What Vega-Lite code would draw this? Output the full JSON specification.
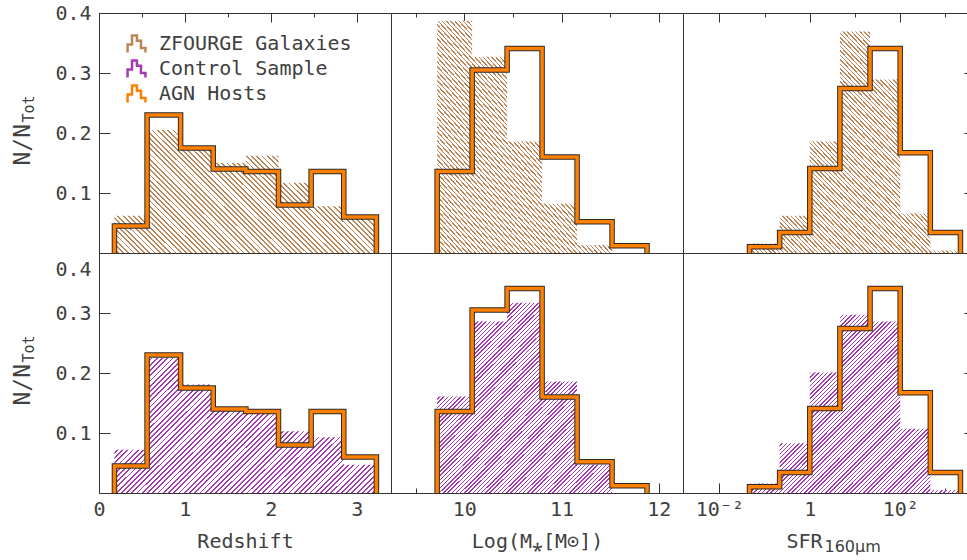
{
  "$schema": "https://vega.github.io/schema/vega-lite/v6.json",
  "background": "white",
  "padding": {"left": 10, "top": 2, "right": 0, "bottom": 0},
  "config": {
    "font": "DejaVu Sans Mono",
    "view": {"stroke": "#333", "strokeWidth": 1},
    "axis": {"grid": false, "domain": false, "tickColor": "#333", "tickWidth": 1, "labelColor": "#404040", "titleColor": "#404040", "labelFont": "DejaVu Sans Mono", "titleFont": "DejaVu Sans Mono", "labelFontSize": 20, "titleFontSize": 20, "titleFontWeight": "normal", "labelOverlap": false, "labelBound": false, "labelFlush": false}
  },
  "params": [
    {"name": "hatchZ", "value": {"gradient": "linear", "x1": 0, "y1": 1, "x2": 1, "y2": 0, "stops": [
{"offset":0,"color":"#bb8658"},{"offset":0.0035,"color":"#bb8658"},{"offset":0.0035,"color":"#fff"},{"offset":0.01,"color":"#fff"},
{"offset":0.01,"color":"#bb8658"},{"offset":0.0135,"color":"#bb8658"},{"offset":0.0135,"color":"#fff"},{"offset":0.02,"color":"#fff"},
{"offset":0.02,"color":"#bb8658"},{"offset":0.0235,"color":"#bb8658"},{"offset":0.0235,"color":"#fff"},{"offset":0.03,"color":"#fff"},
{"offset":0.03,"color":"#bb8658"},{"offset":0.0335,"color":"#bb8658"},{"offset":0.0335,"color":"#fff"},{"offset":0.04,"color":"#fff"},
{"offset":0.04,"color":"#bb8658"},{"offset":0.0435,"color":"#bb8658"},{"offset":0.0435,"color":"#fff"},{"offset":0.05,"color":"#fff"},
{"offset":0.05,"color":"#bb8658"},{"offset":0.0535,"color":"#bb8658"},{"offset":0.0535,"color":"#fff"},{"offset":0.06,"color":"#fff"},
{"offset":0.06,"color":"#bb8658"},{"offset":0.0635,"color":"#bb8658"},{"offset":0.0635,"color":"#fff"},{"offset":0.07,"color":"#fff"},
{"offset":0.07,"color":"#bb8658"},{"offset":0.0735,"color":"#bb8658"},{"offset":0.0735,"color":"#fff"},{"offset":0.08,"color":"#fff"},
{"offset":0.08,"color":"#bb8658"},{"offset":0.0835,"color":"#bb8658"},{"offset":0.0835,"color":"#fff"},{"offset":0.09,"color":"#fff"},
{"offset":0.09,"color":"#bb8658"},{"offset":0.0935,"color":"#bb8658"},{"offset":0.0935,"color":"#fff"},{"offset":0.1,"color":"#fff"},
{"offset":0.1,"color":"#bb8658"},{"offset":0.1035,"color":"#bb8658"},{"offset":0.1035,"color":"#fff"},{"offset":0.11,"color":"#fff"},
{"offset":0.11,"color":"#bb8658"},{"offset":0.1135,"color":"#bb8658"},{"offset":0.1135,"color":"#fff"},{"offset":0.12,"color":"#fff"},
{"offset":0.12,"color":"#bb8658"},{"offset":0.1235,"color":"#bb8658"},{"offset":0.1235,"color":"#fff"},{"offset":0.13,"color":"#fff"},
{"offset":0.13,"color":"#bb8658"},{"offset":0.1335,"color":"#bb8658"},{"offset":0.1335,"color":"#fff"},{"offset":0.14,"color":"#fff"},
{"offset":0.14,"color":"#bb8658"},{"offset":0.1435,"color":"#bb8658"},{"offset":0.1435,"color":"#fff"},{"offset":0.15,"color":"#fff"},
{"offset":0.15,"color":"#bb8658"},{"offset":0.1535,"color":"#bb8658"},{"offset":0.1535,"color":"#fff"},{"offset":0.16,"color":"#fff"},
{"offset":0.16,"color":"#bb8658"},{"offset":0.1635,"color":"#bb8658"},{"offset":0.1635,"color":"#fff"},{"offset":0.17,"color":"#fff"},
{"offset":0.17,"color":"#bb8658"},{"offset":0.1735,"color":"#bb8658"},{"offset":0.1735,"color":"#fff"},{"offset":0.18,"color":"#fff"},
{"offset":0.18,"color":"#bb8658"},{"offset":0.1835,"color":"#bb8658"},{"offset":0.1835,"color":"#fff"},{"offset":0.19,"color":"#fff"},
{"offset":0.19,"color":"#bb8658"},{"offset":0.1935,"color":"#bb8658"},{"offset":0.1935,"color":"#fff"},{"offset":0.2,"color":"#fff"},
{"offset":0.2,"color":"#bb8658"},{"offset":0.2035,"color":"#bb8658"},{"offset":0.2035,"color":"#fff"},{"offset":0.21,"color":"#fff"},
{"offset":0.21,"color":"#bb8658"},{"offset":0.2135,"color":"#bb8658"},{"offset":0.2135,"color":"#fff"},{"offset":0.22,"color":"#fff"},
{"offset":0.22,"color":"#bb8658"},{"offset":0.2235,"color":"#bb8658"},{"offset":0.2235,"color":"#fff"},{"offset":0.23,"color":"#fff"},
{"offset":0.23,"color":"#bb8658"},{"offset":0.2335,"color":"#bb8658"},{"offset":0.2335,"color":"#fff"},{"offset":0.24,"color":"#fff"},
{"offset":0.24,"color":"#bb8658"},{"offset":0.2435,"color":"#bb8658"},{"offset":0.2435,"color":"#fff"},{"offset":0.25,"color":"#fff"},
{"offset":0.25,"color":"#bb8658"},{"offset":0.2535,"color":"#bb8658"},{"offset":0.2535,"color":"#fff"},{"offset":0.26,"color":"#fff"},
{"offset":0.26,"color":"#bb8658"},{"offset":0.2635,"color":"#bb8658"},{"offset":0.2635,"color":"#fff"},{"offset":0.27,"color":"#fff"},
{"offset":0.27,"color":"#bb8658"},{"offset":0.2735,"color":"#bb8658"},{"offset":0.2735,"color":"#fff"},{"offset":0.28,"color":"#fff"},
{"offset":0.28,"color":"#bb8658"},{"offset":0.2835,"color":"#bb8658"},{"offset":0.2835,"color":"#fff"},{"offset":0.29,"color":"#fff"},
{"offset":0.29,"color":"#bb8658"},{"offset":0.2935,"color":"#bb8658"},{"offset":0.2935,"color":"#fff"},{"offset":0.3,"color":"#fff"},
{"offset":0.3,"color":"#bb8658"},{"offset":0.3035,"color":"#bb8658"},{"offset":0.3035,"color":"#fff"},{"offset":0.31,"color":"#fff"},
{"offset":0.31,"color":"#bb8658"},{"offset":0.3135,"color":"#bb8658"},{"offset":0.3135,"color":"#fff"},{"offset":0.32,"color":"#fff"},
{"offset":0.32,"color":"#bb8658"},{"offset":0.3235,"color":"#bb8658"},{"offset":0.3235,"color":"#fff"},{"offset":0.33,"color":"#fff"},
{"offset":0.33,"color":"#bb8658"},{"offset":0.3335,"color":"#bb8658"},{"offset":0.3335,"color":"#fff"},{"offset":0.34,"color":"#fff"},
{"offset":0.34,"color":"#bb8658"},{"offset":0.3435,"color":"#bb8658"},{"offset":0.3435,"color":"#fff"},{"offset":0.35,"color":"#fff"},
{"offset":0.35,"color":"#bb8658"},{"offset":0.3535,"color":"#bb8658"},{"offset":0.3535,"color":"#fff"},{"offset":0.36,"color":"#fff"},
{"offset":0.36,"color":"#bb8658"},{"offset":0.3635,"color":"#bb8658"},{"offset":0.3635,"color":"#fff"},{"offset":0.37,"color":"#fff"},
{"offset":0.37,"color":"#bb8658"},{"offset":0.3735,"color":"#bb8658"},{"offset":0.3735,"color":"#fff"},{"offset":0.38,"color":"#fff"},
{"offset":0.38,"color":"#bb8658"},{"offset":0.3835,"color":"#bb8658"},{"offset":0.3835,"color":"#fff"},{"offset":0.39,"color":"#fff"},
{"offset":0.39,"color":"#bb8658"},{"offset":0.3935,"color":"#bb8658"},{"offset":0.3935,"color":"#fff"},{"offset":0.4,"color":"#fff"},
{"offset":0.4,"color":"#bb8658"},{"offset":0.4035,"color":"#bb8658"},{"offset":0.4035,"color":"#fff"},{"offset":0.41,"color":"#fff"},
{"offset":0.41,"color":"#bb8658"},{"offset":0.4135,"color":"#bb8658"},{"offset":0.4135,"color":"#fff"},{"offset":0.42,"color":"#fff"},
{"offset":0.42,"color":"#bb8658"},{"offset":0.4235,"color":"#bb8658"},{"offset":0.4235,"color":"#fff"},{"offset":0.43,"color":"#fff"},
{"offset":0.43,"color":"#bb8658"},{"offset":0.4335,"color":"#bb8658"},{"offset":0.4335,"color":"#fff"},{"offset":0.44,"color":"#fff"},
{"offset":0.44,"color":"#bb8658"},{"offset":0.4435,"color":"#bb8658"},{"offset":0.4435,"color":"#fff"},{"offset":0.45,"color":"#fff"},
{"offset":0.45,"color":"#bb8658"},{"offset":0.4535,"color":"#bb8658"},{"offset":0.4535,"color":"#fff"},{"offset":0.46,"color":"#fff"},
{"offset":0.46,"color":"#bb8658"},{"offset":0.4635,"color":"#bb8658"},{"offset":0.4635,"color":"#fff"},{"offset":0.47,"color":"#fff"},
{"offset":0.47,"color":"#bb8658"},{"offset":0.4735,"color":"#bb8658"},{"offset":0.4735,"color":"#fff"},{"offset":0.48,"color":"#fff"},
{"offset":0.48,"color":"#bb8658"},{"offset":0.4835,"color":"#bb8658"},{"offset":0.4835,"color":"#fff"},{"offset":0.49,"color":"#fff"},
{"offset":0.49,"color":"#bb8658"},{"offset":0.4935,"color":"#bb8658"},{"offset":0.4935,"color":"#fff"},{"offset":0.5,"color":"#fff"},
{"offset":0.5,"color":"#bb8658"},{"offset":0.5035,"color":"#bb8658"},{"offset":0.5035,"color":"#fff"},{"offset":0.51,"color":"#fff"},
{"offset":0.51,"color":"#bb8658"},{"offset":0.5135,"color":"#bb8658"},{"offset":0.5135,"color":"#fff"},{"offset":0.52,"color":"#fff"},
{"offset":0.52,"color":"#bb8658"},{"offset":0.5235,"color":"#bb8658"},{"offset":0.5235,"color":"#fff"},{"offset":0.53,"color":"#fff"},
{"offset":0.53,"color":"#bb8658"},{"offset":0.5335,"color":"#bb8658"},{"offset":0.5335,"color":"#fff"},{"offset":0.54,"color":"#fff"},
{"offset":0.54,"color":"#bb8658"},{"offset":0.5435,"color":"#bb8658"},{"offset":0.5435,"color":"#fff"},{"offset":0.55,"color":"#fff"},
{"offset":0.55,"color":"#bb8658"},{"offset":0.5535,"color":"#bb8658"},{"offset":0.5535,"color":"#fff"},{"offset":0.56,"color":"#fff"},
{"offset":0.56,"color":"#bb8658"},{"offset":0.5635,"color":"#bb8658"},{"offset":0.5635,"color":"#fff"},{"offset":0.57,"color":"#fff"},
{"offset":0.57,"color":"#bb8658"},{"offset":0.5735,"color":"#bb8658"},{"offset":0.5735,"color":"#fff"},{"offset":0.58,"color":"#fff"},
{"offset":0.58,"color":"#bb8658"},{"offset":0.5835,"color":"#bb8658"},{"offset":0.5835,"color":"#fff"},{"offset":0.59,"color":"#fff"},
{"offset":0.59,"color":"#bb8658"},{"offset":0.5935,"color":"#bb8658"},{"offset":0.5935,"color":"#fff"},{"offset":0.6,"color":"#fff"},
{"offset":0.6,"color":"#bb8658"},{"offset":0.6035,"color":"#bb8658"},{"offset":0.6035,"color":"#fff"},{"offset":0.61,"color":"#fff"},
{"offset":0.61,"color":"#bb8658"},{"offset":0.6135,"color":"#bb8658"},{"offset":0.6135,"color":"#fff"},{"offset":0.62,"color":"#fff"},
{"offset":0.62,"color":"#bb8658"},{"offset":0.6235,"color":"#bb8658"},{"offset":0.6235,"color":"#fff"},{"offset":0.63,"color":"#fff"},
{"offset":0.63,"color":"#bb8658"},{"offset":0.6335,"color":"#bb8658"},{"offset":0.6335,"color":"#fff"},{"offset":0.64,"color":"#fff"},
{"offset":0.64,"color":"#bb8658"},{"offset":0.6435,"color":"#bb8658"},{"offset":0.6435,"color":"#fff"},{"offset":0.65,"color":"#fff"},
{"offset":0.65,"color":"#bb8658"},{"offset":0.6535,"color":"#bb8658"},{"offset":0.6535,"color":"#fff"},{"offset":0.66,"color":"#fff"},
{"offset":0.66,"color":"#bb8658"},{"offset":0.6635,"color":"#bb8658"},{"offset":0.6635,"color":"#fff"},{"offset":0.67,"color":"#fff"},
{"offset":0.67,"color":"#bb8658"},{"offset":0.6735,"color":"#bb8658"},{"offset":0.6735,"color":"#fff"},{"offset":0.68,"color":"#fff"},
{"offset":0.68,"color":"#bb8658"},{"offset":0.6835,"color":"#bb8658"},{"offset":0.6835,"color":"#fff"},{"offset":0.69,"color":"#fff"},
{"offset":0.69,"color":"#bb8658"},{"offset":0.6935,"color":"#bb8658"},{"offset":0.6935,"color":"#fff"},{"offset":0.7,"color":"#fff"},
{"offset":0.7,"color":"#bb8658"},{"offset":0.7035,"color":"#bb8658"},{"offset":0.7035,"color":"#fff"},{"offset":0.71,"color":"#fff"},
{"offset":0.71,"color":"#bb8658"},{"offset":0.7135,"color":"#bb8658"},{"offset":0.7135,"color":"#fff"},{"offset":0.72,"color":"#fff"},
{"offset":0.72,"color":"#bb8658"},{"offset":0.7235,"color":"#bb8658"},{"offset":0.7235,"color":"#fff"},{"offset":0.73,"color":"#fff"},
{"offset":0.73,"color":"#bb8658"},{"offset":0.7335,"color":"#bb8658"},{"offset":0.7335,"color":"#fff"},{"offset":0.74,"color":"#fff"},
{"offset":0.74,"color":"#bb8658"},{"offset":0.7435,"color":"#bb8658"},{"offset":0.7435,"color":"#fff"},{"offset":0.75,"color":"#fff"},
{"offset":0.75,"color":"#bb8658"},{"offset":0.7535,"color":"#bb8658"},{"offset":0.7535,"color":"#fff"},{"offset":0.76,"color":"#fff"},
{"offset":0.76,"color":"#bb8658"},{"offset":0.7635,"color":"#bb8658"},{"offset":0.7635,"color":"#fff"},{"offset":0.77,"color":"#fff"},
{"offset":0.77,"color":"#bb8658"},{"offset":0.7735,"color":"#bb8658"},{"offset":0.7735,"color":"#fff"},{"offset":0.78,"color":"#fff"},
{"offset":0.78,"color":"#bb8658"},{"offset":0.7835,"color":"#bb8658"},{"offset":0.7835,"color":"#fff"},{"offset":0.79,"color":"#fff"},
{"offset":0.79,"color":"#bb8658"},{"offset":0.7935,"color":"#bb8658"},{"offset":0.7935,"color":"#fff"},{"offset":0.8,"color":"#fff"},
{"offset":0.8,"color":"#bb8658"},{"offset":0.8035,"color":"#bb8658"},{"offset":0.8035,"color":"#fff"},{"offset":0.81,"color":"#fff"},
{"offset":0.81,"color":"#bb8658"},{"offset":0.8135,"color":"#bb8658"},{"offset":0.8135,"color":"#fff"},{"offset":0.82,"color":"#fff"},
{"offset":0.82,"color":"#bb8658"},{"offset":0.8235,"color":"#bb8658"},{"offset":0.8235,"color":"#fff"},{"offset":0.83,"color":"#fff"},
{"offset":0.83,"color":"#bb8658"},{"offset":0.8335,"color":"#bb8658"},{"offset":0.8335,"color":"#fff"},{"offset":0.84,"color":"#fff"},
{"offset":0.84,"color":"#bb8658"},{"offset":0.8435,"color":"#bb8658"},{"offset":0.8435,"color":"#fff"},{"offset":0.85,"color":"#fff"},
{"offset":0.85,"color":"#bb8658"},{"offset":0.8535,"color":"#bb8658"},{"offset":0.8535,"color":"#fff"},{"offset":0.86,"color":"#fff"},
{"offset":0.86,"color":"#bb8658"},{"offset":0.8635,"color":"#bb8658"},{"offset":0.8635,"color":"#fff"},{"offset":0.87,"color":"#fff"},
{"offset":0.87,"color":"#bb8658"},{"offset":0.8735,"color":"#bb8658"},{"offset":0.8735,"color":"#fff"},{"offset":0.88,"color":"#fff"},
{"offset":0.88,"color":"#bb8658"},{"offset":0.8835,"color":"#bb8658"},{"offset":0.8835,"color":"#fff"},{"offset":0.89,"color":"#fff"},
{"offset":0.89,"color":"#bb8658"},{"offset":0.8935,"color":"#bb8658"},{"offset":0.8935,"color":"#fff"},{"offset":0.9,"color":"#fff"},
{"offset":0.9,"color":"#bb8658"},{"offset":0.9035,"color":"#bb8658"},{"offset":0.9035,"color":"#fff"},{"offset":0.91,"color":"#fff"},
{"offset":0.91,"color":"#bb8658"},{"offset":0.9135,"color":"#bb8658"},{"offset":0.9135,"color":"#fff"},{"offset":0.92,"color":"#fff"},
{"offset":0.92,"color":"#bb8658"},{"offset":0.9235,"color":"#bb8658"},{"offset":0.9235,"color":"#fff"},{"offset":0.93,"color":"#fff"},
{"offset":0.93,"color":"#bb8658"},{"offset":0.9335,"color":"#bb8658"},{"offset":0.9335,"color":"#fff"},{"offset":0.94,"color":"#fff"},
{"offset":0.94,"color":"#bb8658"},{"offset":0.9435,"color":"#bb8658"},{"offset":0.9435,"color":"#fff"},{"offset":0.95,"color":"#fff"},
{"offset":0.95,"color":"#bb8658"},{"offset":0.9535,"color":"#bb8658"},{"offset":0.9535,"color":"#fff"},{"offset":0.96,"color":"#fff"},
{"offset":0.96,"color":"#bb8658"},{"offset":0.9635,"color":"#bb8658"},{"offset":0.9635,"color":"#fff"},{"offset":0.97,"color":"#fff"},
{"offset":0.97,"color":"#bb8658"},{"offset":0.9735,"color":"#bb8658"},{"offset":0.9735,"color":"#fff"},{"offset":0.98,"color":"#fff"},
{"offset":0.98,"color":"#bb8658"},{"offset":0.9835,"color":"#bb8658"},{"offset":0.9835,"color":"#fff"},{"offset":0.99,"color":"#fff"},
{"offset":0.99,"color":"#bb8658"},{"offset":0.9935,"color":"#bb8658"},{"offset":0.9935,"color":"#fff"},{"offset":1,"color":"#fff"}
    ]}},
    {"name": "hatchC", "value": {"gradient": "linear", "x1": 0, "y1": 0, "x2": 1, "y2": 1, "stops": [
{"offset":0,"color":"#a23cb0"},{"offset":0.0035,"color":"#a23cb0"},{"offset":0.0035,"color":"#fff"},{"offset":0.01,"color":"#fff"},
{"offset":0.01,"color":"#a23cb0"},{"offset":0.0135,"color":"#a23cb0"},{"offset":0.0135,"color":"#fff"},{"offset":0.02,"color":"#fff"},
{"offset":0.02,"color":"#a23cb0"},{"offset":0.0235,"color":"#a23cb0"},{"offset":0.0235,"color":"#fff"},{"offset":0.03,"color":"#fff"},
{"offset":0.03,"color":"#a23cb0"},{"offset":0.0335,"color":"#a23cb0"},{"offset":0.0335,"color":"#fff"},{"offset":0.04,"color":"#fff"},
{"offset":0.04,"color":"#a23cb0"},{"offset":0.0435,"color":"#a23cb0"},{"offset":0.0435,"color":"#fff"},{"offset":0.05,"color":"#fff"},
{"offset":0.05,"color":"#a23cb0"},{"offset":0.0535,"color":"#a23cb0"},{"offset":0.0535,"color":"#fff"},{"offset":0.06,"color":"#fff"},
{"offset":0.06,"color":"#a23cb0"},{"offset":0.0635,"color":"#a23cb0"},{"offset":0.0635,"color":"#fff"},{"offset":0.07,"color":"#fff"},
{"offset":0.07,"color":"#a23cb0"},{"offset":0.0735,"color":"#a23cb0"},{"offset":0.0735,"color":"#fff"},{"offset":0.08,"color":"#fff"},
{"offset":0.08,"color":"#a23cb0"},{"offset":0.0835,"color":"#a23cb0"},{"offset":0.0835,"color":"#fff"},{"offset":0.09,"color":"#fff"},
{"offset":0.09,"color":"#a23cb0"},{"offset":0.0935,"color":"#a23cb0"},{"offset":0.0935,"color":"#fff"},{"offset":0.1,"color":"#fff"},
{"offset":0.1,"color":"#a23cb0"},{"offset":0.1035,"color":"#a23cb0"},{"offset":0.1035,"color":"#fff"},{"offset":0.11,"color":"#fff"},
{"offset":0.11,"color":"#a23cb0"},{"offset":0.1135,"color":"#a23cb0"},{"offset":0.1135,"color":"#fff"},{"offset":0.12,"color":"#fff"},
{"offset":0.12,"color":"#a23cb0"},{"offset":0.1235,"color":"#a23cb0"},{"offset":0.1235,"color":"#fff"},{"offset":0.13,"color":"#fff"},
{"offset":0.13,"color":"#a23cb0"},{"offset":0.1335,"color":"#a23cb0"},{"offset":0.1335,"color":"#fff"},{"offset":0.14,"color":"#fff"},
{"offset":0.14,"color":"#a23cb0"},{"offset":0.1435,"color":"#a23cb0"},{"offset":0.1435,"color":"#fff"},{"offset":0.15,"color":"#fff"},
{"offset":0.15,"color":"#a23cb0"},{"offset":0.1535,"color":"#a23cb0"},{"offset":0.1535,"color":"#fff"},{"offset":0.16,"color":"#fff"},
{"offset":0.16,"color":"#a23cb0"},{"offset":0.1635,"color":"#a23cb0"},{"offset":0.1635,"color":"#fff"},{"offset":0.17,"color":"#fff"},
{"offset":0.17,"color":"#a23cb0"},{"offset":0.1735,"color":"#a23cb0"},{"offset":0.1735,"color":"#fff"},{"offset":0.18,"color":"#fff"},
{"offset":0.18,"color":"#a23cb0"},{"offset":0.1835,"color":"#a23cb0"},{"offset":0.1835,"color":"#fff"},{"offset":0.19,"color":"#fff"},
{"offset":0.19,"color":"#a23cb0"},{"offset":0.1935,"color":"#a23cb0"},{"offset":0.1935,"color":"#fff"},{"offset":0.2,"color":"#fff"},
{"offset":0.2,"color":"#a23cb0"},{"offset":0.2035,"color":"#a23cb0"},{"offset":0.2035,"color":"#fff"},{"offset":0.21,"color":"#fff"},
{"offset":0.21,"color":"#a23cb0"},{"offset":0.2135,"color":"#a23cb0"},{"offset":0.2135,"color":"#fff"},{"offset":0.22,"color":"#fff"},
{"offset":0.22,"color":"#a23cb0"},{"offset":0.2235,"color":"#a23cb0"},{"offset":0.2235,"color":"#fff"},{"offset":0.23,"color":"#fff"},
{"offset":0.23,"color":"#a23cb0"},{"offset":0.2335,"color":"#a23cb0"},{"offset":0.2335,"color":"#fff"},{"offset":0.24,"color":"#fff"},
{"offset":0.24,"color":"#a23cb0"},{"offset":0.2435,"color":"#a23cb0"},{"offset":0.2435,"color":"#fff"},{"offset":0.25,"color":"#fff"},
{"offset":0.25,"color":"#a23cb0"},{"offset":0.2535,"color":"#a23cb0"},{"offset":0.2535,"color":"#fff"},{"offset":0.26,"color":"#fff"},
{"offset":0.26,"color":"#a23cb0"},{"offset":0.2635,"color":"#a23cb0"},{"offset":0.2635,"color":"#fff"},{"offset":0.27,"color":"#fff"},
{"offset":0.27,"color":"#a23cb0"},{"offset":0.2735,"color":"#a23cb0"},{"offset":0.2735,"color":"#fff"},{"offset":0.28,"color":"#fff"},
{"offset":0.28,"color":"#a23cb0"},{"offset":0.2835,"color":"#a23cb0"},{"offset":0.2835,"color":"#fff"},{"offset":0.29,"color":"#fff"},
{"offset":0.29,"color":"#a23cb0"},{"offset":0.2935,"color":"#a23cb0"},{"offset":0.2935,"color":"#fff"},{"offset":0.3,"color":"#fff"},
{"offset":0.3,"color":"#a23cb0"},{"offset":0.3035,"color":"#a23cb0"},{"offset":0.3035,"color":"#fff"},{"offset":0.31,"color":"#fff"},
{"offset":0.31,"color":"#a23cb0"},{"offset":0.3135,"color":"#a23cb0"},{"offset":0.3135,"color":"#fff"},{"offset":0.32,"color":"#fff"},
{"offset":0.32,"color":"#a23cb0"},{"offset":0.3235,"color":"#a23cb0"},{"offset":0.3235,"color":"#fff"},{"offset":0.33,"color":"#fff"},
{"offset":0.33,"color":"#a23cb0"},{"offset":0.3335,"color":"#a23cb0"},{"offset":0.3335,"color":"#fff"},{"offset":0.34,"color":"#fff"},
{"offset":0.34,"color":"#a23cb0"},{"offset":0.3435,"color":"#a23cb0"},{"offset":0.3435,"color":"#fff"},{"offset":0.35,"color":"#fff"},
{"offset":0.35,"color":"#a23cb0"},{"offset":0.3535,"color":"#a23cb0"},{"offset":0.3535,"color":"#fff"},{"offset":0.36,"color":"#fff"},
{"offset":0.36,"color":"#a23cb0"},{"offset":0.3635,"color":"#a23cb0"},{"offset":0.3635,"color":"#fff"},{"offset":0.37,"color":"#fff"},
{"offset":0.37,"color":"#a23cb0"},{"offset":0.3735,"color":"#a23cb0"},{"offset":0.3735,"color":"#fff"},{"offset":0.38,"color":"#fff"},
{"offset":0.38,"color":"#a23cb0"},{"offset":0.3835,"color":"#a23cb0"},{"offset":0.3835,"color":"#fff"},{"offset":0.39,"color":"#fff"},
{"offset":0.39,"color":"#a23cb0"},{"offset":0.3935,"color":"#a23cb0"},{"offset":0.3935,"color":"#fff"},{"offset":0.4,"color":"#fff"},
{"offset":0.4,"color":"#a23cb0"},{"offset":0.4035,"color":"#a23cb0"},{"offset":0.4035,"color":"#fff"},{"offset":0.41,"color":"#fff"},
{"offset":0.41,"color":"#a23cb0"},{"offset":0.4135,"color":"#a23cb0"},{"offset":0.4135,"color":"#fff"},{"offset":0.42,"color":"#fff"},
{"offset":0.42,"color":"#a23cb0"},{"offset":0.4235,"color":"#a23cb0"},{"offset":0.4235,"color":"#fff"},{"offset":0.43,"color":"#fff"},
{"offset":0.43,"color":"#a23cb0"},{"offset":0.4335,"color":"#a23cb0"},{"offset":0.4335,"color":"#fff"},{"offset":0.44,"color":"#fff"},
{"offset":0.44,"color":"#a23cb0"},{"offset":0.4435,"color":"#a23cb0"},{"offset":0.4435,"color":"#fff"},{"offset":0.45,"color":"#fff"},
{"offset":0.45,"color":"#a23cb0"},{"offset":0.4535,"color":"#a23cb0"},{"offset":0.4535,"color":"#fff"},{"offset":0.46,"color":"#fff"},
{"offset":0.46,"color":"#a23cb0"},{"offset":0.4635,"color":"#a23cb0"},{"offset":0.4635,"color":"#fff"},{"offset":0.47,"color":"#fff"},
{"offset":0.47,"color":"#a23cb0"},{"offset":0.4735,"color":"#a23cb0"},{"offset":0.4735,"color":"#fff"},{"offset":0.48,"color":"#fff"},
{"offset":0.48,"color":"#a23cb0"},{"offset":0.4835,"color":"#a23cb0"},{"offset":0.4835,"color":"#fff"},{"offset":0.49,"color":"#fff"},
{"offset":0.49,"color":"#a23cb0"},{"offset":0.4935,"color":"#a23cb0"},{"offset":0.4935,"color":"#fff"},{"offset":0.5,"color":"#fff"},
{"offset":0.5,"color":"#a23cb0"},{"offset":0.5035,"color":"#a23cb0"},{"offset":0.5035,"color":"#fff"},{"offset":0.51,"color":"#fff"},
{"offset":0.51,"color":"#a23cb0"},{"offset":0.5135,"color":"#a23cb0"},{"offset":0.5135,"color":"#fff"},{"offset":0.52,"color":"#fff"},
{"offset":0.52,"color":"#a23cb0"},{"offset":0.5235,"color":"#a23cb0"},{"offset":0.5235,"color":"#fff"},{"offset":0.53,"color":"#fff"},
{"offset":0.53,"color":"#a23cb0"},{"offset":0.5335,"color":"#a23cb0"},{"offset":0.5335,"color":"#fff"},{"offset":0.54,"color":"#fff"},
{"offset":0.54,"color":"#a23cb0"},{"offset":0.5435,"color":"#a23cb0"},{"offset":0.5435,"color":"#fff"},{"offset":0.55,"color":"#fff"},
{"offset":0.55,"color":"#a23cb0"},{"offset":0.5535,"color":"#a23cb0"},{"offset":0.5535,"color":"#fff"},{"offset":0.56,"color":"#fff"},
{"offset":0.56,"color":"#a23cb0"},{"offset":0.5635,"color":"#a23cb0"},{"offset":0.5635,"color":"#fff"},{"offset":0.57,"color":"#fff"},
{"offset":0.57,"color":"#a23cb0"},{"offset":0.5735,"color":"#a23cb0"},{"offset":0.5735,"color":"#fff"},{"offset":0.58,"color":"#fff"},
{"offset":0.58,"color":"#a23cb0"},{"offset":0.5835,"color":"#a23cb0"},{"offset":0.5835,"color":"#fff"},{"offset":0.59,"color":"#fff"},
{"offset":0.59,"color":"#a23cb0"},{"offset":0.5935,"color":"#a23cb0"},{"offset":0.5935,"color":"#fff"},{"offset":0.6,"color":"#fff"},
{"offset":0.6,"color":"#a23cb0"},{"offset":0.6035,"color":"#a23cb0"},{"offset":0.6035,"color":"#fff"},{"offset":0.61,"color":"#fff"},
{"offset":0.61,"color":"#a23cb0"},{"offset":0.6135,"color":"#a23cb0"},{"offset":0.6135,"color":"#fff"},{"offset":0.62,"color":"#fff"},
{"offset":0.62,"color":"#a23cb0"},{"offset":0.6235,"color":"#a23cb0"},{"offset":0.6235,"color":"#fff"},{"offset":0.63,"color":"#fff"},
{"offset":0.63,"color":"#a23cb0"},{"offset":0.6335,"color":"#a23cb0"},{"offset":0.6335,"color":"#fff"},{"offset":0.64,"color":"#fff"},
{"offset":0.64,"color":"#a23cb0"},{"offset":0.6435,"color":"#a23cb0"},{"offset":0.6435,"color":"#fff"},{"offset":0.65,"color":"#fff"},
{"offset":0.65,"color":"#a23cb0"},{"offset":0.6535,"color":"#a23cb0"},{"offset":0.6535,"color":"#fff"},{"offset":0.66,"color":"#fff"},
{"offset":0.66,"color":"#a23cb0"},{"offset":0.6635,"color":"#a23cb0"},{"offset":0.6635,"color":"#fff"},{"offset":0.67,"color":"#fff"},
{"offset":0.67,"color":"#a23cb0"},{"offset":0.6735,"color":"#a23cb0"},{"offset":0.6735,"color":"#fff"},{"offset":0.68,"color":"#fff"},
{"offset":0.68,"color":"#a23cb0"},{"offset":0.6835,"color":"#a23cb0"},{"offset":0.6835,"color":"#fff"},{"offset":0.69,"color":"#fff"},
{"offset":0.69,"color":"#a23cb0"},{"offset":0.6935,"color":"#a23cb0"},{"offset":0.6935,"color":"#fff"},{"offset":0.7,"color":"#fff"},
{"offset":0.7,"color":"#a23cb0"},{"offset":0.7035,"color":"#a23cb0"},{"offset":0.7035,"color":"#fff"},{"offset":0.71,"color":"#fff"},
{"offset":0.71,"color":"#a23cb0"},{"offset":0.7135,"color":"#a23cb0"},{"offset":0.7135,"color":"#fff"},{"offset":0.72,"color":"#fff"},
{"offset":0.72,"color":"#a23cb0"},{"offset":0.7235,"color":"#a23cb0"},{"offset":0.7235,"color":"#fff"},{"offset":0.73,"color":"#fff"},
{"offset":0.73,"color":"#a23cb0"},{"offset":0.7335,"color":"#a23cb0"},{"offset":0.7335,"color":"#fff"},{"offset":0.74,"color":"#fff"},
{"offset":0.74,"color":"#a23cb0"},{"offset":0.7435,"color":"#a23cb0"},{"offset":0.7435,"color":"#fff"},{"offset":0.75,"color":"#fff"},
{"offset":0.75,"color":"#a23cb0"},{"offset":0.7535,"color":"#a23cb0"},{"offset":0.7535,"color":"#fff"},{"offset":0.76,"color":"#fff"},
{"offset":0.76,"color":"#a23cb0"},{"offset":0.7635,"color":"#a23cb0"},{"offset":0.7635,"color":"#fff"},{"offset":0.77,"color":"#fff"},
{"offset":0.77,"color":"#a23cb0"},{"offset":0.7735,"color":"#a23cb0"},{"offset":0.7735,"color":"#fff"},{"offset":0.78,"color":"#fff"},
{"offset":0.78,"color":"#a23cb0"},{"offset":0.7835,"color":"#a23cb0"},{"offset":0.7835,"color":"#fff"},{"offset":0.79,"color":"#fff"},
{"offset":0.79,"color":"#a23cb0"},{"offset":0.7935,"color":"#a23cb0"},{"offset":0.7935,"color":"#fff"},{"offset":0.8,"color":"#fff"},
{"offset":0.8,"color":"#a23cb0"},{"offset":0.8035,"color":"#a23cb0"},{"offset":0.8035,"color":"#fff"},{"offset":0.81,"color":"#fff"},
{"offset":0.81,"color":"#a23cb0"},{"offset":0.8135,"color":"#a23cb0"},{"offset":0.8135,"color":"#fff"},{"offset":0.82,"color":"#fff"},
{"offset":0.82,"color":"#a23cb0"},{"offset":0.8235,"color":"#a23cb0"},{"offset":0.8235,"color":"#fff"},{"offset":0.83,"color":"#fff"},
{"offset":0.83,"color":"#a23cb0"},{"offset":0.8335,"color":"#a23cb0"},{"offset":0.8335,"color":"#fff"},{"offset":0.84,"color":"#fff"},
{"offset":0.84,"color":"#a23cb0"},{"offset":0.8435,"color":"#a23cb0"},{"offset":0.8435,"color":"#fff"},{"offset":0.85,"color":"#fff"},
{"offset":0.85,"color":"#a23cb0"},{"offset":0.8535,"color":"#a23cb0"},{"offset":0.8535,"color":"#fff"},{"offset":0.86,"color":"#fff"},
{"offset":0.86,"color":"#a23cb0"},{"offset":0.8635,"color":"#a23cb0"},{"offset":0.8635,"color":"#fff"},{"offset":0.87,"color":"#fff"},
{"offset":0.87,"color":"#a23cb0"},{"offset":0.8735,"color":"#a23cb0"},{"offset":0.8735,"color":"#fff"},{"offset":0.88,"color":"#fff"},
{"offset":0.88,"color":"#a23cb0"},{"offset":0.8835,"color":"#a23cb0"},{"offset":0.8835,"color":"#fff"},{"offset":0.89,"color":"#fff"},
{"offset":0.89,"color":"#a23cb0"},{"offset":0.8935,"color":"#a23cb0"},{"offset":0.8935,"color":"#fff"},{"offset":0.9,"color":"#fff"},
{"offset":0.9,"color":"#a23cb0"},{"offset":0.9035,"color":"#a23cb0"},{"offset":0.9035,"color":"#fff"},{"offset":0.91,"color":"#fff"},
{"offset":0.91,"color":"#a23cb0"},{"offset":0.9135,"color":"#a23cb0"},{"offset":0.9135,"color":"#fff"},{"offset":0.92,"color":"#fff"},
{"offset":0.92,"color":"#a23cb0"},{"offset":0.9235,"color":"#a23cb0"},{"offset":0.9235,"color":"#fff"},{"offset":0.93,"color":"#fff"},
{"offset":0.93,"color":"#a23cb0"},{"offset":0.9335,"color":"#a23cb0"},{"offset":0.9335,"color":"#fff"},{"offset":0.94,"color":"#fff"},
{"offset":0.94,"color":"#a23cb0"},{"offset":0.9435,"color":"#a23cb0"},{"offset":0.9435,"color":"#fff"},{"offset":0.95,"color":"#fff"},
{"offset":0.95,"color":"#a23cb0"},{"offset":0.9535,"color":"#a23cb0"},{"offset":0.9535,"color":"#fff"},{"offset":0.96,"color":"#fff"},
{"offset":0.96,"color":"#a23cb0"},{"offset":0.9635,"color":"#a23cb0"},{"offset":0.9635,"color":"#fff"},{"offset":0.97,"color":"#fff"},
{"offset":0.97,"color":"#a23cb0"},{"offset":0.9735,"color":"#a23cb0"},{"offset":0.9735,"color":"#fff"},{"offset":0.98,"color":"#fff"},
{"offset":0.98,"color":"#a23cb0"},{"offset":0.9835,"color":"#a23cb0"},{"offset":0.9835,"color":"#fff"},{"offset":0.99,"color":"#fff"},
{"offset":0.99,"color":"#a23cb0"},{"offset":0.9935,"color":"#a23cb0"},{"offset":0.9935,"color":"#fff"},{"offset":1,"color":"#fff"}
    ]}}
  ],
  "datasets": {
    "za": [{"x":0.18,"y":0,"i":0},{"x":0.18,"y":0.045,"i":1},{"x":0.56,"y":0.23,"i":2},{"x":0.95,"y":0.175,"i":3},{"x":1.33,"y":0.14,"i":4},{"x":1.71,"y":0.136,"i":5},{"x":2.09,"y":0.08,"i":6},{"x":2.47,"y":0.136,"i":7},{"x":2.85,"y":0.06,"i":8},{"x":3.23,"y":0.06,"i":9},{"x":3.23,"y":0,"i":10}],
    "zz": [{"x":0.18,"y":0.062},{"x":0.56,"y":0.205},{"x":0.95,"y":0.172},{"x":1.33,"y":0.15},{"x":1.71,"y":0.162},{"x":2.09,"y":0.117},{"x":2.47,"y":0.078},{"x":2.85,"y":0.057},{"x":3.23,"y":0.057}],
    "zc": [{"x":0.18,"y":0.072},{"x":0.56,"y":0.225},{"x":0.95,"y":0.181},{"x":1.33,"y":0.142},{"x":1.71,"y":0.133},{"x":2.09,"y":0.103},{"x":2.47,"y":0.093},{"x":2.85,"y":0.047},{"x":3.23,"y":0.047}],
    "ma": [{"x":9.72,"y":0,"i":0},{"x":9.72,"y":0.136,"i":1},{"x":10.08,"y":0.305,"i":2},{"x":10.44,"y":0.341,"i":3},{"x":10.8,"y":0.16,"i":4},{"x":11.16,"y":0.052,"i":5},{"x":11.52,"y":0.012,"i":6},{"x":11.88,"y":0.012,"i":7},{"x":11.88,"y":0,"i":8}],
    "mz": [{"x":9.72,"y":0.387},{"x":10.08,"y":0.327},{"x":10.44,"y":0.186},{"x":10.8,"y":0.082},{"x":11.16,"y":0.013},{"x":11.52,"y":0},{"x":11.88,"y":0}],
    "mc": [{"x":9.72,"y":0.161},{"x":10.08,"y":0.286},{"x":10.44,"y":0.317},{"x":10.8,"y":0.186},{"x":11.16,"y":0.047},{"x":11.52,"y":0},{"x":11.88,"y":0}],
    "sa": [{"x":0.0464,"y":0,"i":0},{"x":0.0464,"y":0.0105,"i":1},{"x":0.2154,"y":0.034,"i":2},{"x":1,"y":0.141,"i":3},{"x":4.642,"y":0.274,"i":4},{"x":21.54,"y":0.341,"i":5},{"x":100,"y":0.167,"i":6},{"x":464.2,"y":0.034,"i":7},{"x":2154,"y":0.034,"i":8},{"x":2154,"y":0,"i":9}],
    "sz": [{"x":0.0464,"y":0.016},{"x":0.2154,"y":0.062},{"x":1,"y":0.186},{"x":4.642,"y":0.369},{"x":21.54,"y":0.289},{"x":100,"y":0.066},{"x":464.2,"y":0.004},{"x":2154,"y":0.004}],
    "sc": [{"x":0.0464,"y":0.016},{"x":0.2154,"y":0.083},{"x":1,"y":0.201},{"x":4.642,"y":0.297},{"x":21.54,"y":0.286},{"x":100,"y":0.107},{"x":464.2,"y":0.005},{"x":2154,"y":0.005}]
  },
  "columns": 3,
  "spacing": 0,
  "bounds": "flush",
  "resolve": {"scale": {"color": "independent"}, "legend": {"color": "independent"}},
  "concat": [
    {
      "width": 292, "height": 240,
      "resolve": {"axis": {"x": "independent", "y": "independent"}},
      "layer": [
        {"data": {"name": "zz"}, "mark": {"type": "area", "interpolate": "step-after", "clip": true, "fill": {"expr": "hatchZ"}},
         "encoding": {
           "x": {"field": "x", "type": "quantitative", "scale": {"domain": [0, 3.4], "nice": false, "zero": false}, "axis": {"orient": "top", "values": [1, 2, 3], "tickSize": -9, "labels": false, "title": null}},
           "y": {"field": "y", "type": "quantitative", "scale": {"domain": [0, 0.4], "nice": false}, "axis": {"orient": "left", "values": [0.1, 0.2, 0.3, 0.4], "format": ".1f", "tickSize": -11, "labelPadding": 19, "title": "N/N", "titleFontSize": 23, "titleAngle": -90, "titleAlign": "left", "titleBaseline": "alphabetic", "titleX": -70, "titleY": 152}},
           "y2": {"datum": -0.23}
         }},
        {"data": {"name": "za"}, "mark": {"type": "line", "interpolate": "step-after", "stroke": "#2a2a2a", "strokeWidth": 5.5, "strokeJoin": "miter", "strokeCap": "butt"},
         "encoding": {
           "x": {"field": "x", "type": "quantitative", "axis": {"orient": "top", "values": [0.5, 1.5, 2.5], "tickSize": -4, "labels": false, "title": null}},
           "y": {"field": "y", "type": "quantitative", "axis": {"orient": "left", "ticks": false, "labels": false, "title": "Tot", "titleFontSize": 15, "titleAngle": -90, "titleAlign": "left", "titleBaseline": "alphabetic", "titleX": -66, "titleY": 109}},
           "order": {"field": "i", "type": "quantitative"}
         }},
        {"data": {"name": "za"}, "mark": {"type": "line", "interpolate": "step-after", "strokeWidth": 3.5, "strokeJoin": "miter", "strokeCap": "butt"},
         "encoding": {
           "x": {"field": "x", "type": "quantitative", "axis": null},
           "y": {"field": "y", "type": "quantitative", "axis": null},
           "order": {"field": "i", "type": "quantitative"},
           "color": {"datum": "AGN Hosts", "type": "nominal",
             "scale": {"domain": ["ZFOURGE Galaxies", "Control Sample", "AGN Hosts"], "range": ["#bb8658", "#a23cb0", "#ff7f00"]},
             "legend": {"title": null, "orient": "none", "legendX": 27, "legendY": 20, "symbolType": "M-1,1L-1,0.1L-0.5,0.1L-0.5,-0.9L0.05,-0.9L0.05,-0.3L0.5,-0.3L0.5,0.5L1,0.5L1,1", "symbolSize": 320, "symbolStrokeWidth": 2.5, "symbolFillColor": "transparent", "labelFont": "DejaVu Sans Mono", "labelFontSize": 20, "labelColor": "#404040", "labelOffset": 12, "rowPadding": -9, "labelLimit": 400}}
         }}
      ]
    },
    {
      "width": 292, "height": 240,
      "resolve": {"axis": {"x": "independent", "y": "independent"}},
      "layer": [
        {"data": {"name": "mz"}, "mark": {"type": "area", "interpolate": "step-after", "clip": true, "fill": {"expr": "hatchZ"}},
         "encoding": {
           "x": {"field": "x", "type": "quantitative", "scale": {"domain": [9.245, 12.25], "nice": false, "zero": false}, "axis": {"orient": "top", "values": [10, 11, 12], "tickSize": -9, "labels": false, "title": null}},
           "y": {"field": "y", "type": "quantitative", "scale": {"domain": [0, 0.4], "nice": false}, "axis": null},
           "y2": {"datum": 0}
         }},
        {"data": {"name": "ma"}, "mark": {"type": "line", "interpolate": "step-after", "stroke": "#2a2a2a", "strokeWidth": 5.5, "strokeJoin": "miter", "strokeCap": "butt"},
         "encoding": {
           "x": {"field": "x", "type": "quantitative", "axis": {"orient": "top", "values": [9.5, 10.5, 11.5], "tickSize": -4, "labels": false, "title": null}},
           "y": {"field": "y", "type": "quantitative", "axis": null},
           "order": {"field": "i", "type": "quantitative"}
         }},
        {"data": {"name": "ma"}, "mark": {"type": "line", "interpolate": "step-after", "stroke": "#ff7f00", "strokeWidth": 3.5, "strokeJoin": "miter", "strokeCap": "butt"},
         "encoding": {
           "x": {"field": "x", "type": "quantitative", "axis": null},
           "y": {"field": "y", "type": "quantitative", "axis": null},
           "order": {"field": "i", "type": "quantitative"}
         }}
      ]
    },
    {
      "width": 292, "height": 240,
      "resolve": {"axis": {"x": "independent", "y": "independent"}},
      "layer": [
        {"data": {"name": "sz"}, "mark": {"type": "area", "interpolate": "step-after", "clip": true, "fill": {"expr": "hatchZ"}},
         "encoding": {
           "x": {"field": "x", "type": "quantitative", "scale": {"type": "log", "domain": [0.001567, 4519], "nice": false, "zero": false}, "axis": {"orient": "top", "values": [0.01, 1, 100], "tickSize": -9, "labels": false, "title": null}},
           "y": {"field": "y", "type": "quantitative", "scale": {"domain": [0, 0.4], "nice": false}, "axis": {"orient": "right", "values": [0.1, 0.2, 0.3, 0.4], "tickSize": -11, "labels": false, "title": null}},
           "y2": {"datum": 0}
         }},
        {"data": {"name": "sa"}, "mark": {"type": "line", "interpolate": "step-after", "stroke": "#2a2a2a", "strokeWidth": 5.5, "strokeJoin": "miter", "strokeCap": "butt"},
         "encoding": {
           "x": {"field": "x", "type": "quantitative", "axis": {"orient": "top", "values": [0.1, 10, 1000], "tickSize": -4, "labels": false, "title": null}},
           "y": {"field": "y", "type": "quantitative", "axis": null},
           "order": {"field": "i", "type": "quantitative"}
         }},
        {"data": {"name": "sa"}, "mark": {"type": "line", "interpolate": "step-after", "stroke": "#ff7f00", "strokeWidth": 3.5, "strokeJoin": "miter", "strokeCap": "butt"},
         "encoding": {
           "x": {"field": "x", "type": "quantitative", "axis": null},
           "y": {"field": "y", "type": "quantitative", "axis": null},
           "order": {"field": "i", "type": "quantitative"}
         }}
      ]
    },
    {
      "width": 292, "height": 240,
      "resolve": {"axis": {"x": "independent", "y": "independent"}},
      "layer": [
        {"data": {"name": "zc"}, "mark": {"type": "area", "interpolate": "step-after", "clip": true, "fill": {"expr": "hatchC"}},
         "encoding": {
           "x": {"field": "x", "type": "quantitative", "scale": {"domain": [0, 3.4], "nice": false, "zero": false}, "axis": {"orient": "bottom", "values": [0, 1, 2, 3], "format": "d", "tickSize": -10, "labelPadding": 16, "title": "Redshift", "titleX": 146, "titleY": 54, "titleAlign": "center", "titleBaseline": "alphabetic"}},
           "y": {"field": "y", "type": "quantitative", "scale": {"domain": [0, 0.4], "nice": false}, "axis": {"orient": "left", "values": [0.1, 0.2, 0.3, 0.4], "format": ".1f", "tickSize": -11, "labelPadding": 19, "labelFlush": true, "labelFlushOffset": -6, "title": "N/N", "titleFontSize": 23, "titleAngle": -90, "titleAlign": "left", "titleBaseline": "alphabetic", "titleX": -70, "titleY": 152}},
           "y2": {"datum": -0.21}
         }},
        {"data": {"name": "za"}, "mark": {"type": "line", "interpolate": "step-after", "stroke": "#2a2a2a", "strokeWidth": 5.5, "strokeJoin": "miter", "strokeCap": "butt"},
         "encoding": {
           "x": {"field": "x", "type": "quantitative", "axis": {"orient": "bottom", "values": [0.5, 1.5, 2.5], "tickSize": -5, "labels": false, "title": null}},
           "y": {"field": "y", "type": "quantitative", "axis": {"orient": "left", "ticks": false, "labels": false, "title": "Tot", "titleFontSize": 15, "titleAngle": -90, "titleAlign": "left", "titleBaseline": "alphabetic", "titleX": -66, "titleY": 109}},
           "order": {"field": "i", "type": "quantitative"}
         }},
        {"data": {"name": "za"}, "mark": {"type": "line", "interpolate": "step-after", "stroke": "#ff7f00", "strokeWidth": 3.5, "strokeJoin": "miter", "strokeCap": "butt"},
         "encoding": {
           "x": {"field": "x", "type": "quantitative", "axis": null},
           "y": {"field": "y", "type": "quantitative", "axis": null},
           "order": {"field": "i", "type": "quantitative"}
         }}
      ]
    },
    {
      "width": 292, "height": 240,
      "resolve": {"axis": {"x": "independent", "y": "independent"}},
      "layer": [
        {"data": {"name": "mc"}, "mark": {"type": "area", "interpolate": "step-after", "clip": true, "fill": {"expr": "hatchC"}},
         "encoding": {
           "x": {"field": "x", "type": "quantitative", "scale": {"domain": [9.245, 12.25], "nice": false, "zero": false}, "axis": {"orient": "bottom", "values": [10, 11, 12], "format": "d", "tickSize": -10, "labelPadding": 16, "title": "Log(M⁎[M⊙])", "titleX": 146, "titleY": 54, "titleAlign": "center", "titleBaseline": "alphabetic"}},
           "y": {"field": "y", "type": "quantitative", "scale": {"domain": [0, 0.4], "nice": false}, "axis": null},
           "y2": {"datum": -0.03}
         }},
        {"data": {"name": "ma"}, "mark": {"type": "line", "interpolate": "step-after", "stroke": "#2a2a2a", "strokeWidth": 5.5, "strokeJoin": "miter", "strokeCap": "butt"},
         "encoding": {
           "x": {"field": "x", "type": "quantitative", "axis": {"orient": "bottom", "values": [9.5, 10.5, 11.5], "tickSize": -5, "labels": false, "title": null}},
           "y": {"field": "y", "type": "quantitative", "axis": null},
           "order": {"field": "i", "type": "quantitative"}
         }},
        {"data": {"name": "ma"}, "mark": {"type": "line", "interpolate": "step-after", "stroke": "#ff7f00", "strokeWidth": 3.5, "strokeJoin": "miter", "strokeCap": "butt"},
         "encoding": {
           "x": {"field": "x", "type": "quantitative", "axis": null},
           "y": {"field": "y", "type": "quantitative", "axis": null},
           "order": {"field": "i", "type": "quantitative"}
         }}
      ]
    },
    {
      "width": 292, "height": 240,
      "resolve": {"axis": {"x": "independent", "y": "independent"}},
      "layer": [
        {"data": {"name": "sc"}, "mark": {"type": "area", "interpolate": "step-after", "clip": true, "fill": {"expr": "hatchC"}},
         "encoding": {
           "x": {"field": "x", "type": "quantitative", "scale": {"type": "log", "domain": [0.001567, 4519], "nice": false, "zero": false}, "axis": {"orient": "bottom", "values": [0.01, 1, 100], "labelExpr": "datum.value < 0.1 ? '10⁻²' : (datum.value > 10 ? '10²' : '1')", "tickSize": -10, "labelPadding": 16, "title": "SFR", "titleX": 139, "titleY": 54, "titleAlign": "right", "titleBaseline": "alphabetic"}},
           "y": {"field": "y", "type": "quantitative", "scale": {"domain": [0, 0.4], "nice": false}, "axis": {"orient": "right", "values": [0.1, 0.2, 0.3, 0.4], "tickSize": -11, "labels": false, "title": null}},
           "y2": {"datum": -0.055}
         }},
        {"data": {"name": "sa"}, "mark": {"type": "line", "interpolate": "step-after", "stroke": "#2a2a2a", "strokeWidth": 5.5, "strokeJoin": "miter", "strokeCap": "butt"},
         "encoding": {
           "x": {"field": "x", "type": "quantitative", "axis": {"orient": "bottom", "values": [0.1, 10, 1000], "tickSize": -5, "labels": false, "title": "160μm", "titleFont": "DejaVu Sans", "titleFontSize": 16, "titleX": 141, "titleY": 58, "titleAlign": "left", "titleBaseline": "alphabetic"}},
           "y": {"field": "y", "type": "quantitative", "axis": null},
           "order": {"field": "i", "type": "quantitative"}
         }},
        {"data": {"name": "sa"}, "mark": {"type": "line", "interpolate": "step-after", "stroke": "#ff7f00", "strokeWidth": 3.5, "strokeJoin": "miter", "strokeCap": "butt"},
         "encoding": {
           "x": {"field": "x", "type": "quantitative", "axis": null},
           "y": {"field": "y", "type": "quantitative", "axis": null},
           "order": {"field": "i", "type": "quantitative"}
         }}
      ]
    }
  ]
}
